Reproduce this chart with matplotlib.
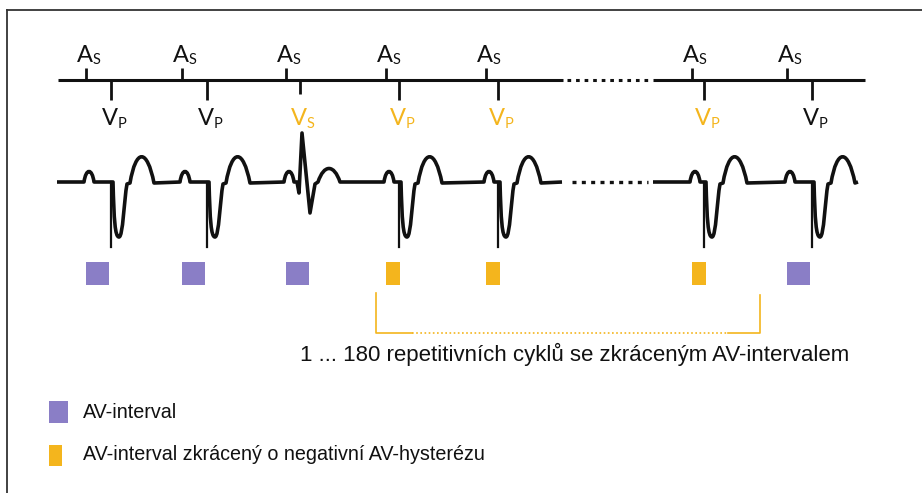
import matplotlib.pyplot as plt
from matplotlib.path import Path
from matplotlib.patches import PathPatch, Rectangle

# event positions along the strip (pixels of the original drawing)
as_times = [86, 182, 286, 386, 486, 692, 787]
v_times = [111, 207, 300, 399, 498, 704, 812]
v_kind = ['P', 'P', 'S', 'P', 'P', 'P', 'P']
v_short = [False, False, True, True, True, True, False]   # orange label
av_short = [False, False, False, True, True, True, False]  # orange box
strip_parts = [(58, 563), (653, 865)]
ecg_parts = [(57, 562, [0, 1, 2, 3, 4]), (653, 858, [5, 6])]
gap = (567, 650)
bracket = (376, 760)
note = "1 ... 180 repetitivních cyklů se zkráceným AV-intervalem"
legend_labels = ["AV-interval", "AV-interval zkrácený o negativní AV-hysterézu"]

PURPLE = '#8a7ec6'
ORANGE = '#f4b51d'
BLACK = '#111111'

fig = plt.figure(figsize=(9.22, 4.93), dpi=100)
ax = fig.add_axes([0, 0, 1, 1])
ax.set_xlim(0, 922)
ax.set_ylim(493, 0)
ax.axis('off')

# frame (top and left only)
ax.plot([7, 922], [10, 10], color='#333333', lw=1.3)
ax.plot([7, 7], [10, 493], color='#333333', lw=1.3)

# ---- marker timeline ----
ty = 80
for x0, x1 in strip_parts:
    ax.plot([x0, x1], [ty, ty], color=BLACK, lw=2.2, solid_capstyle='butt')
ax.plot([gap[0], gap[1]], [ty, ty], color=BLACK, lw=2.2, ls=(0, (1.2, 1.6)))

lab_font = 'Lato'
for a in as_times:
    ax.plot([a, a], [68, ty], color=BLACK, lw=2.0, solid_capstyle='butt')
    ax.text(a - 1, 62, 'A', ha='center', va='baseline', fontsize=17,
            family=lab_font, color=BLACK)
    ax.text(a + 7, 64, 'S', ha='left', va='baseline', fontsize=10.5,
            family=lab_font, color=BLACK)
for v, k, sh in zip(v_times, v_kind, v_short):
    col = ORANGE if sh else BLACK
    bot = 100 if k == 'P' else 94
    ax.plot([v, v], [ty, bot], color=BLACK, lw=2.0, solid_capstyle='butt')
    ax.text(v - 1, 125, 'V', ha='center', va='baseline', fontsize=17,
            family=lab_font, color=col)
    ax.text(v + 7, 128, k, ha='left', va='baseline', fontsize=10.5,
            family=lab_font, color=col)

# ---- ECG trace ----
y0 = 182


def beat_path(a, s, kind, verts, codes):
    p = a + 3
    verts += [(p - 5, y0)]
    codes += [Path.LINETO]
    verts += [(p - 3, y0 - 14), (p + 3, y0 - 14), (p + 5, y0)]
    codes += [Path.CURVE4] * 3
    if kind == 'P':
        verts += [(s + 2, y0)]
        codes += [Path.LINETO]
        verts += [(s + 3, y0 + 38), (s + 4, y0 + 55), (s + 8, y0 + 55)]
        codes += [Path.CURVE4] * 3
        verts += [(s + 12, y0 + 55), (s + 13, y0 + 18), (s + 16, y0 + 2)]
        codes += [Path.CURVE4] * 3
        verts += [(s + 19, y0 + 1)]
        codes += [Path.LINETO]
        verts += [(s + 25, y0 - 34), (s + 36, y0 - 34), (s + 43, y0 + 1)]
        codes += [Path.CURVE4] * 3
    else:
        verts += [(s - 3, y0), (s - 1, y0 + 11), (s + 2, y0 - 49),
                  (s + 10, y0 + 31), (s + 15, y0 + 2), (s + 18, y0)]
        codes += [Path.LINETO] * 6
        verts += [(s + 24, y0 - 18), (s + 34, y0 - 18), (s + 40, y0)]
        codes += [Path.CURVE4] * 3


for x0, x1, idx in ecg_parts:
    verts = [(x0, y0)]
    codes = [Path.MOVETO]
    for i in idx:
        beat_path(as_times[i], v_times[i], v_kind[i], verts, codes)
    verts += [(x1, y0)]
    codes += [Path.LINETO]
    ax.add_patch(PathPatch(Path(verts, codes), fill=False, edgecolor=BLACK,
                           lw=2.6, joinstyle='round', capstyle='butt'))
    for i in idx:
        if v_kind[i] == 'P':
            s = v_times[i]
            ax.plot([s, s], [y0, y0 + 65], color=BLACK, lw=1.6)
ax.plot([572, 648], [y0, y0], color=BLACK, lw=2.4, ls=(0, (1.2, 1.6)))

# ---- AV interval boxes ----
for a, sh in zip(as_times, av_short):
    w = 13.5 if sh else 23
    ax.add_patch(Rectangle((a, 262), w, 23, color=ORANGE if sh else PURPLE, lw=0))

# ---- bracket ----
bl, br = bracket
ax.plot([bl, bl, bl + 36], [293, 333, 333], color=ORANGE, lw=1.2)
ax.plot([br - 32, br, br], [333, 333, 295], color=ORANGE, lw=1.2)
ax.plot([bl + 36, br - 32], [333, 333], color=ORANGE, lw=1.2, ls=(0, (1, 1.5)))
ax.text(300, 354, note, ha='left', va='center', fontsize=16,
        family='Liberation Sans', color=BLACK)

# ---- legend ----
ax.add_patch(Rectangle((49, 401), 19, 22, color=PURPLE, lw=0))
ax.add_patch(Rectangle((49, 445), 13, 21, color=ORANGE, lw=0))
ax.text(83, 412, legend_labels[0], ha='left', va='center', fontsize=14.2,
        family='Liberation Sans', color=BLACK)
ax.text(83, 454, legend_labels[1], ha='left', va='center', fontsize=14.2,
        family='Liberation Sans', color=BLACK)

fig.savefig('out.png', dpi=100)
